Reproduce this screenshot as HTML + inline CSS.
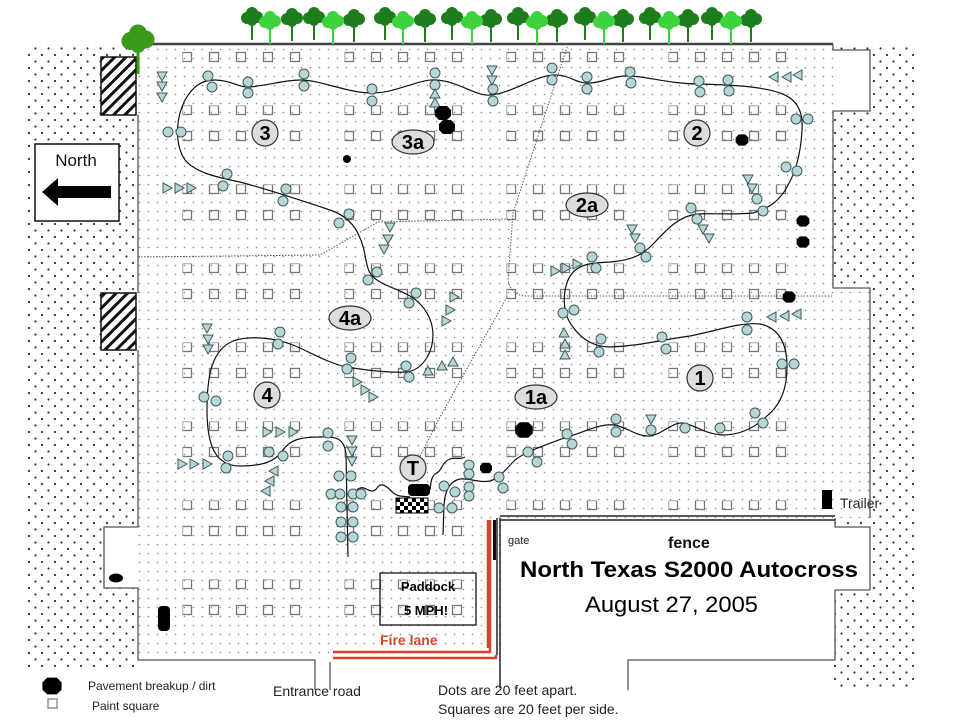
<!DOCTYPE html>
<html><head><meta charset="utf-8"><style>
html,body{margin:0;padding:0;background:#fff;}
svg{display:block;font-family:"Liberation Sans",Arial,sans-serif;}
</style></head><body>
<svg width="960" height="720" viewBox="0 0 960 720" xmlns="http://www.w3.org/2000/svg">
<defs>
<pattern id="dots" x="0" y="0" width="9" height="9" patternUnits="userSpaceOnUse"><circle cx="4.5" cy="4.5" r="0.8" fill="#8a8a8a"/></pattern>
<pattern id="stip" x="0" y="0" width="13" height="13" patternUnits="userSpaceOnUse"><circle cx="3" cy="3" r="1.1" fill="#333"/><circle cx="9.5" cy="9.5" r="1.1" fill="#333"/></pattern>
<pattern id="sq" x="182.5" y="26.5" width="162" height="79" patternUnits="userSpaceOnUse">
<g fill="none" stroke="#777" stroke-width="1.3">
<rect x="0" y="0" width="9" height="9"/><rect x="27" y="0" width="9" height="9"/><rect x="54" y="0" width="9" height="9"/><rect x="81" y="0" width="9" height="9"/><rect x="108" y="0" width="9" height="9"/>
<rect x="0" y="26" width="9" height="9"/><rect x="27" y="26" width="9" height="9"/><rect x="54" y="26" width="9" height="9"/><rect x="81" y="26" width="9" height="9"/><rect x="108" y="26" width="9" height="9"/>
</g></pattern>
<pattern id="hatch" width="8" height="8" patternUnits="userSpaceOnUse" patternTransform="rotate(45)"><rect width="8" height="8" fill="#fff"/><rect width="3" height="8" fill="#111"/></pattern>
<pattern id="check" width="8" height="8" patternUnits="userSpaceOnUse" x="396" y="498"><rect width="8" height="8" fill="#fff"/><rect width="4" height="4" fill="#000"/><rect x="4" y="4" width="4" height="4" fill="#000"/></pattern>
<polygon id="td" points="-5,-4 5,-4 0,5" fill="#b9d6d6" stroke="#3d5a5a" stroke-width="1"/>
<polygon id="tu" points="-5,4 5,4 0,-5" fill="#b9d6d6" stroke="#3d5a5a" stroke-width="1"/>
<polygon id="tr" points="-4,-5 -4,5 5,0" fill="#b9d6d6" stroke="#3d5a5a" stroke-width="1"/>
<polygon id="tl" points="4,-5 4,5 -5,0" fill="#b9d6d6" stroke="#3d5a5a" stroke-width="1"/>
<path id="blob" d="M-4,-7 H4 L8,-3 V3 L4,7 H-4 L-8,3 V-3 Z" fill="#000"/>
<g id="tree"><line x1="0" y1="6" x2="0" y2="24" stroke="currentColor" stroke-width="2"/><circle cx="-5" cy="2" r="6" fill="currentColor"/><circle cx="5" cy="1" r="6" fill="currentColor"/><circle cx="0" cy="-3" r="6" fill="currentColor"/><circle cx="0" cy="5" r="5" fill="currentColor"/></g>
</defs>

<rect x="25" y="44" width="113" height="626" fill="url(#stip)"/>
<rect x="833" y="44" width="82" height="646" fill="url(#stip)"/>
<rect x="104" y="527" width="34" height="61" fill="#fff"/>
<rect x="834" y="50" width="36" height="61" fill="#fff"/>

<path d="M138,44 H833 V288 H870 V518 H500 V660 H138 Z" fill="#fff"/>
<path d="M138,44 H833 V288 H870 V518 H500 V660 H138 Z" fill="url(#dots)"/>
<rect x="178" y="50" width="620" height="570" fill="url(#sq)"/>

<path d="M500,518 H835 V527 H870 V590 H835 V660 H628 V700 H500 Z" fill="#fff"/>

<g fill="none" stroke="#555" stroke-width="1.3">
<line x1="138" y1="44" x2="833" y2="44" stroke-width="2.5" stroke="#444"/>
<path d="M833,44 V50 H870 V111 H833 V288 H870 V518"/>
<path d="M138,115 V293 M138,350 V527 H104 V588 H138 V660 H315 V690 M330,662 V690"/>
<path d="M835,518 V527 H870 V590 H835 V660 H628 V690"/>
</g>
<g stroke="#222" stroke-width="1.5"><line x1="500" y1="516" x2="835" y2="516"/><line x1="500" y1="520" x2="835" y2="520"/><line x1="500" y1="518" x2="500" y2="688"/><line x1="497" y1="518" x2="497" y2="655"/></g>
<rect x="493" y="520" width="3" height="40" fill="#111"/>
<g stroke="#d9432a" stroke-width="2.5" fill="none"><path d="M333,652 H490 V520"/><path d="M333,658 H496 V655"/><line x1="488" y1="520" x2="488" y2="648"/></g>

<rect x="101" y="57" width="35" height="58" fill="url(#hatch)" stroke="#111" stroke-width="1.5"/>
<rect x="101" y="293" width="35" height="57" fill="url(#hatch)" stroke="#111" stroke-width="1.5"/>

<rect x="35" y="144" width="84" height="77" fill="#fff" stroke="#111" stroke-width="1.5"/>
<text x="76" y="166" font-size="17" text-anchor="middle" fill="#111">North</text>
<path d="M42,192 L58,178 V186 H111 V198 H58 V206 Z" fill="#000"/>

<g color="#1d7d1d">
<use href="#tree" x="252" y="16"/><use href="#tree" x="292" y="17"/><use href="#tree" x="314" y="16"/><use href="#tree" x="354" y="18"/>
<use href="#tree" x="385" y="16"/><use href="#tree" x="425" y="18"/><use href="#tree" x="452" y="16"/><use href="#tree" x="491" y="18"/>
<use href="#tree" x="518" y="16"/><use href="#tree" x="557" y="18"/><use href="#tree" x="585" y="16"/><use href="#tree" x="623" y="18"/>
<use href="#tree" x="650" y="16"/><use href="#tree" x="688" y="18"/><use href="#tree" x="712" y="16"/><use href="#tree" x="751" y="18"/>
</g>
<g color="#3fd23f">
<use href="#tree" x="270" y="20"/><use href="#tree" x="333" y="20"/><use href="#tree" x="403" y="20"/><use href="#tree" x="472" y="20"/>
<use href="#tree" x="537" y="20"/><use href="#tree" x="604" y="20"/><use href="#tree" x="669" y="20"/><use href="#tree" x="731" y="20"/>
</g>
<g color="#3a9a1a"><use href="#tree" transform="translate(138,38) scale(1.5)"/></g>

<g fill="none" stroke="#555" stroke-width="1" stroke-dasharray="1.5,1.5">
<path d="M138,257 L320,255 L378,222 L508,219"/>
<path d="M568,44 L513,213 L508,280 C510,290 515,295 525,296 L833,296"/>
<path d="M507,297 L440,417 L418,460"/>
</g>

<g fill="none" stroke="#111" stroke-width="1.2">
<path d="M348,557 L346,455 C345,438 335,436 320,437 C300,437 290,440 283,450 C275,462 262,466 240,466 C215,466 207,445 207,410 C207,375 212,350 233,341 C250,335 275,338 293,345 C310,352 330,364 347,367 C365,370 390,373 408,372 C425,368 433,350 433,335 C433,320 425,305 410,296 C395,287 378,285 370,273 C365,265 366,250 360,238 C355,225 345,215 330,210 C300,200 270,190 240,182 C215,177 195,172 185,160 C175,145 175,120 185,100 C192,88 200,80 215,80 C230,80 240,88 250,87 C270,85 285,80 300,80 C320,80 345,92 370,93 C395,94 420,78 437,80 C460,82 475,96 490,95 C510,94 535,76 553,75 C570,74 575,84 590,83 C605,82 615,75 630,76 C650,77 670,84 700,84 C730,85 760,86 780,93 C800,100 803,115 802,130 C801,150 797,170 787,187 C780,200 770,208 753,213 C735,215 710,213 697,214 C680,216 668,228 655,242 C645,253 635,260 610,262 C590,263 575,264 568,280 C562,295 563,315 573,327 C582,340 595,347 610,347 C640,346 660,340 690,336 C720,330 740,322 760,324 C780,328 787,345 787,367 C787,390 780,405 768,415 C755,428 740,435 722,435 C705,434 695,425 683,423 C672,422 663,434 650,436 C638,437 628,428 615,425 C600,423 585,432 567,437 C545,445 525,452 515,460 C505,470 500,478 490,481 C478,483 470,478 460,479 C450,481 445,490 444,505 L443,535"/>
<path d="M357,490 C363,484 368,492 373,491 C378,490 377,484 383,485 C390,487 392,495 400,496 L410,497"/>
<path d="M430,490 C431,480 432,475 437,473 C442,470 442,462 450,459 C456,457 460,460 465,457"/>
</g>

<g fill="#b9d6d6" stroke="#3d5a5a" stroke-width="1">
<circle cx="208" cy="76" r="5"/><circle cx="212" cy="87" r="5"/><circle cx="248" cy="82" r="5"/><circle cx="248" cy="93" r="5"/><circle cx="304" cy="74" r="5"/><circle cx="304" cy="86" r="5"/>
<circle cx="372" cy="89" r="5"/><circle cx="372" cy="101" r="5"/><circle cx="435" cy="73" r="5"/><circle cx="435" cy="85" r="5"/><circle cx="493" cy="89" r="5"/><circle cx="493" cy="101" r="5"/>
<circle cx="552" cy="68" r="5"/><circle cx="552" cy="80" r="5"/><circle cx="587" cy="77" r="5"/><circle cx="587" cy="89" r="5"/><circle cx="630" cy="72" r="5"/><circle cx="631" cy="83" r="5"/>
<circle cx="699" cy="81" r="5"/><circle cx="700" cy="92" r="5"/><circle cx="728" cy="80" r="5"/><circle cx="729" cy="91" r="5"/><circle cx="796" cy="119" r="5"/><circle cx="808" cy="119" r="5"/>
<circle cx="786" cy="167" r="5"/><circle cx="797" cy="171" r="5"/><circle cx="757" cy="199" r="5"/><circle cx="763" cy="211" r="5"/><circle cx="691" cy="208" r="5"/><circle cx="697" cy="219" r="5"/>
<circle cx="640" cy="248" r="5"/><circle cx="646" cy="257" r="5"/><circle cx="592" cy="257" r="5"/><circle cx="596" cy="268" r="5"/>
<circle cx="168" cy="132" r="5"/><circle cx="181" cy="132" r="5"/><circle cx="227" cy="174" r="5"/><circle cx="223" cy="186" r="5"/><circle cx="286" cy="189" r="5"/><circle cx="283" cy="201" r="5"/>
<circle cx="349" cy="214" r="5"/><circle cx="339" cy="223" r="5"/><circle cx="377" cy="272" r="5"/><circle cx="368" cy="280" r="5"/><circle cx="416" cy="293" r="5"/><circle cx="409" cy="303" r="5"/>
<circle cx="280" cy="332" r="5"/><circle cx="278" cy="344" r="5"/><circle cx="351" cy="358" r="5"/><circle cx="347" cy="369" r="5"/><circle cx="406" cy="366" r="5"/><circle cx="409" cy="377" r="5"/>
<circle cx="204" cy="397" r="5"/><circle cx="216" cy="401" r="5"/><circle cx="328" cy="433" r="5"/><circle cx="328" cy="446" r="5"/><circle cx="228" cy="456" r="5"/><circle cx="226" cy="468" r="5"/>
<circle cx="269" cy="452" r="5"/><circle cx="283" cy="456" r="5"/>
<circle cx="339" cy="476" r="5"/><circle cx="351" cy="476" r="5"/><circle cx="331" cy="494" r="5"/><circle cx="340" cy="494" r="5"/><circle cx="353" cy="494" r="5"/><circle cx="361" cy="494" r="5"/>
<circle cx="341" cy="507" r="5"/><circle cx="353" cy="507" r="5"/><circle cx="341" cy="522" r="5"/><circle cx="353" cy="522" r="5"/><circle cx="341" cy="537" r="5"/><circle cx="353" cy="537" r="5"/>
<circle cx="444" cy="486" r="5"/><circle cx="455" cy="492" r="5"/><circle cx="469" cy="465" r="5"/><circle cx="469" cy="474" r="5"/><circle cx="469" cy="487" r="5"/><circle cx="469" cy="496" r="5"/>
<circle cx="439" cy="508" r="5"/><circle cx="452" cy="508" r="5"/><circle cx="499" cy="477" r="5"/><circle cx="503" cy="488" r="5"/>
<circle cx="528" cy="452" r="5"/><circle cx="537" cy="462" r="5"/><circle cx="567" cy="434" r="5"/><circle cx="572" cy="444" r="5"/><circle cx="616" cy="419" r="5"/><circle cx="616" cy="432" r="5"/>
<circle cx="651" cy="430" r="5"/><circle cx="685" cy="428" r="5"/><circle cx="720" cy="428" r="5"/><circle cx="755" cy="413" r="5"/><circle cx="763" cy="423" r="5"/>
<circle cx="782" cy="364" r="5"/><circle cx="794" cy="364" r="5"/><circle cx="747" cy="317" r="5"/><circle cx="747" cy="330" r="5"/><circle cx="662" cy="337" r="5"/><circle cx="666" cy="349" r="5"/>
<circle cx="601" cy="339" r="5"/><circle cx="599" cy="352" r="5"/><circle cx="563" cy="313" r="5"/><circle cx="574" cy="310" r="5"/>
</g>

<use href="#td" x="162" y="76"/><use href="#td" x="162" y="86"/><use href="#td" x="162" y="97"/>
<use href="#tr" x="167" y="188"/><use href="#tr" x="179" y="188"/><use href="#tr" x="191" y="188"/>
<use href="#td" x="492" y="70"/><use href="#td" x="492" y="80"/><use href="#tu" x="435" y="94"/><use href="#tu" x="435" y="103"/>
<use href="#tl" x="774" y="77"/><use href="#tl" x="787" y="77"/><use href="#tl" x="798" y="75"/>
<use href="#td" x="748" y="179"/><use href="#td" x="752" y="188"/><use href="#td" x="632" y="229"/><use href="#td" x="635" y="238"/>
<use href="#td" x="703" y="229"/><use href="#td" x="709" y="238"/>
<use href="#td" x="390" y="227"/><use href="#td" x="388" y="239"/><use href="#td" x="384" y="249"/>
<use href="#tr" x="555" y="271"/><use href="#tr" x="566" y="268"/><use href="#tr" x="577" y="264"/>
<use href="#tl" x="772" y="317"/><use href="#tl" x="785" y="316"/><use href="#tl" x="797" y="314"/>
<use href="#tu" x="564" y="333"/><use href="#tu" x="565" y="344"/><use href="#tu" x="565" y="355"/>
<use href="#td" x="651" y="419"/>
<use href="#td" x="207" y="328"/><use href="#td" x="208" y="339"/><use href="#td" x="208" y="349"/>
<use href="#tr" x="454" y="297"/><use href="#tr" x="450" y="310"/><use href="#tr" x="446" y="321"/>
<use href="#tu" x="428" y="371"/><use href="#tu" x="442" y="366"/><use href="#tu" x="453" y="362"/>
<use href="#tr" x="357" y="382"/><use href="#tr" x="365" y="390"/><use href="#tr" x="373" y="397"/>
<use href="#tr" x="267" y="432"/><use href="#tr" x="280" y="432"/><use href="#tr" x="293" y="432"/>
<use href="#td" x="352" y="440"/><use href="#td" x="352" y="451"/><use href="#td" x="352" y="461"/>
<use href="#tr" x="182" y="464"/><use href="#tr" x="194" y="464"/><use href="#tr" x="207" y="464"/>
<use href="#tl" x="274" y="471"/><use href="#tl" x="270" y="481"/><use href="#tl" x="266" y="491"/>

<use href="#blob" x="443" y="113"/><use href="#blob" x="447" y="127"/>
<circle cx="347" cy="159" r="4" fill="#000"/>
<use href="#blob" transform="translate(742,140) scale(0.8)"/>
<use href="#blob" transform="translate(803,221) scale(0.8)"/>
<use href="#blob" transform="translate(803,242) scale(0.8)"/>
<use href="#blob" transform="translate(789,297) scale(0.8)"/>
<use href="#blob" transform="translate(524,430) scale(1.1)"/>
<use href="#blob" transform="translate(486,468) scale(0.75)"/>
<rect x="408" y="484" width="22" height="12" rx="4" fill="#000"/>
<ellipse cx="116" cy="578" rx="7" ry="4.5" fill="#000"/>
<rect x="158" y="606" width="12" height="25" rx="4" fill="#000"/>
<rect x="822" y="490" width="10" height="19" fill="#000"/>

<rect x="396" y="498" width="32" height="15" fill="url(#check)" stroke="#000" stroke-width="1"/>

<g fill="#ddd" stroke="#333" stroke-width="1.2">
<circle cx="265" cy="133" r="13"/><ellipse cx="413" cy="142" rx="21" ry="12"/><circle cx="697" cy="133" r="13"/>
<ellipse cx="587" cy="205" rx="21" ry="12"/><ellipse cx="350" cy="318" rx="21" ry="12"/><circle cx="267" cy="395" r="13"/>
<circle cx="700" cy="378" r="13"/><ellipse cx="536" cy="397" rx="21" ry="12"/><circle cx="413" cy="468" r="13"/>
</g>
<g font-size="20" font-weight="bold" fill="#000" text-anchor="middle">
<text x="265" y="140">3</text><text x="413" y="149">3a</text><text x="697" y="140">2</text>
<text x="587" y="212">2a</text><text x="350" y="325">4a</text><text x="267" y="402">4</text>
<text x="700" y="385">1</text><text x="536" y="404">1a</text><text x="413" y="475">T</text>
</g>

<rect x="380" y="573" width="96" height="52" fill="none" stroke="#000" stroke-width="1.2"/>
<text x="428" y="591" font-size="13" font-weight="bold" text-anchor="middle">Paddock</text>
<text x="426" y="615" font-size="13" font-weight="bold" text-anchor="middle">5 MPH!</text>
<text x="380" y="645" font-size="14" font-weight="bold" fill="#d9432a">Fire lane</text>

<text x="508" y="544" font-size="11" fill="#222">gate</text>
<text x="668" y="548" font-size="16" font-weight="bold" fill="#111">fence</text>
<text x="520" y="577" font-size="22" font-weight="bold" fill="#000" textLength="338" lengthAdjust="spacingAndGlyphs">North Texas S2000 Autocross</text>
<text x="585" y="612" font-size="22" fill="#000" textLength="173" lengthAdjust="spacingAndGlyphs">August 27, 2005</text>
<text x="840" y="508" font-size="14" fill="#222">Trailer</text>

<use href="#blob" transform="translate(52,686) scale(1.2)"/>
<rect x="48" y="699" width="9" height="9" fill="none" stroke="#777" stroke-width="1.2"/>
<text x="88" y="690" font-size="12" fill="#222">Pavement breakup / dirt</text>
<text x="92" y="710" font-size="12" fill="#222">Paint square</text>
<text x="273" y="696" font-size="14" fill="#222">Entrance road</text>
<text x="438" y="695" font-size="14" fill="#222">Dots are 20 feet apart.</text>
<text x="438" y="714" font-size="14" fill="#222">Squares are 20 feet per side.</text>
</svg>
</body></html>
